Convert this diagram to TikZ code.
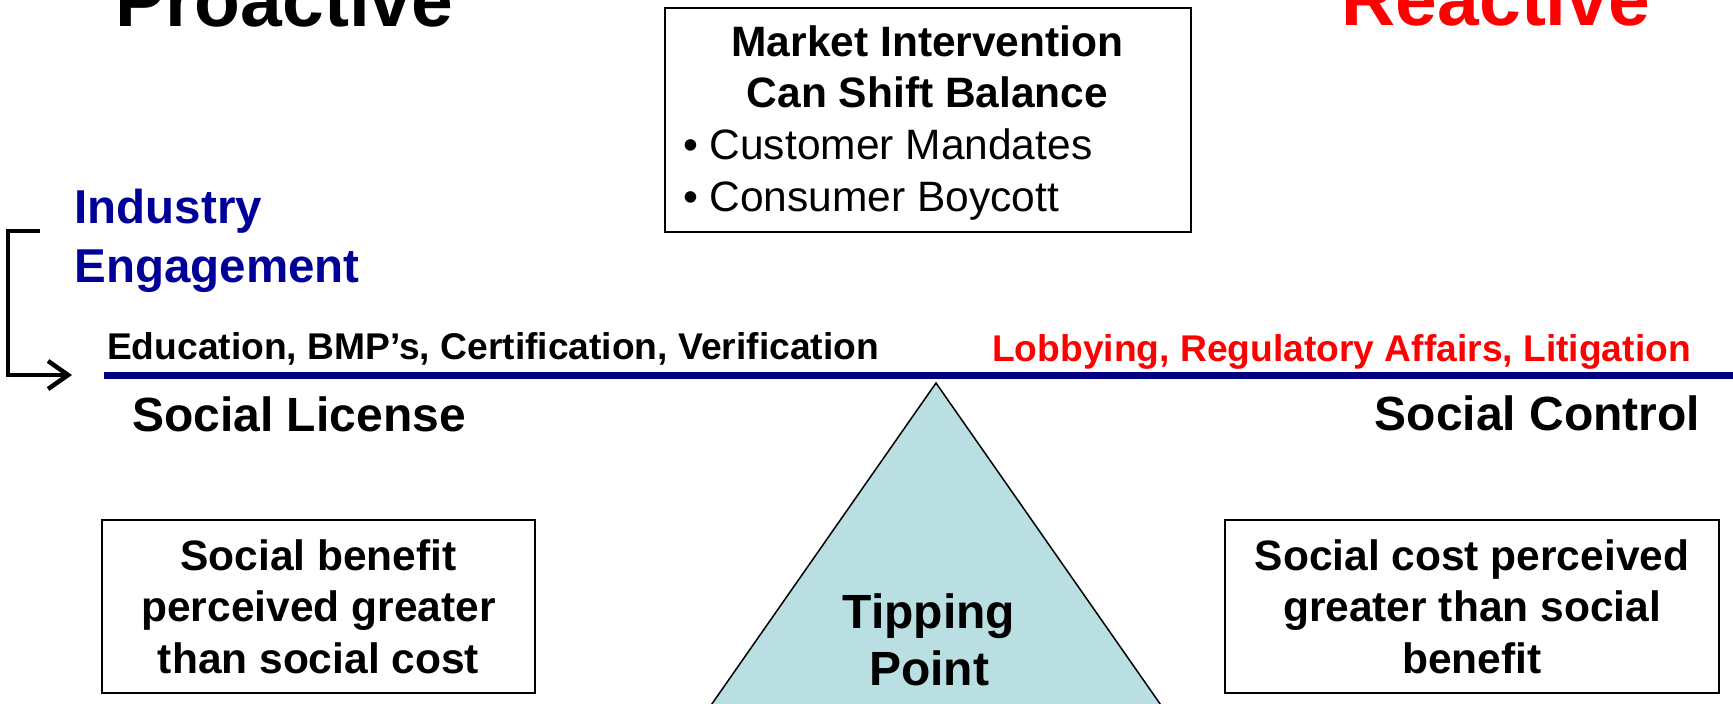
\documentclass[tikz,border=0pt]{standalone}
\usepackage{fontspec}
\setmainfont{Liberation Sans}
\usetikzlibrary{arrows.meta}
\definecolor{engblue}{RGB}{0,0,153}
\definecolor{navyline}{RGB}{0,0,128}
\definecolor{tipfill}{RGB}{185,223,227}
\definecolor{redtxt}{RGB}{255,0,0}
\begin{document}
\begin{tikzpicture}[x=1bp,y=-1bp,
  txt/.style={inner sep=0pt, outer sep=0pt},
  huge/.style={txt, anchor=base, font=\fontsize{75bp}{80bp}\selectfont\bfseries},
  head/.style={txt, anchor=base, font=\fontsize{48bp}{59bp}\selectfont\bfseries},
  midb/.style={txt, anchor=base, align=center, font=\fontsize{42.5bp}{51.3bp}\selectfont\bfseries},
  midr/.style={txt, anchor=base west, align=left, font=\fontsize{42.5bp}{51bp}\selectfont},
  small/.style={txt, anchor=base, font=\fontsize{37.2bp}{44bp}\selectfont\bfseries},
  box/.style={draw, line width=2bp, inner sep=0pt, fill=white},
]
\useasboundingbox (0,0) rectangle (1733,704);
\clip (0,0) rectangle (1733,704);

% titles
\node[huge] (pro) at (284.5,27) {Proactive};
\node[huge, text=redtxt] (rea) at (1496,26) {Reactive};

% market intervention box
\node[box, minimum width=526bp, minimum height=224bp] (mbox) at (928,120) {};
\node[midb, font=\fontsize{42.5bp}{51bp}\selectfont\bfseries] (mtitle) at (927.5,108) {Market Intervention\\Can Shift Balance};
\node[midr] (mlist) at (683,211) {• Customer Mandates\\• Consumer Boycott};

% industry engagement
\node[txt, anchor=base west, align=left, text=engblue,
      font=\fontsize{47.5bp}{59bp}\selectfont\bfseries] (eng) at (74.5,282) {Industry\\Engagement};

% bracket arrow
\coordinate (brS) at (40,231);
\coordinate (brE) at (72,375);
\draw[line width=4.5bp, -{Straight Barb[length=20bp,width=28bp]}]
  (brS) -- ++(-32,0) |- (brE);

% balance line
\coordinate (lineL) at (104,375.5);
\coordinate (lineR) at (1733,375.5);
\draw[navyline, line width=7bp] (lineL) -- (lineR);

% line labels
\node[small] (edu) at (493,359) {Education, BMP’s, Certification, Verification};
\node[small, text=redtxt] (lob) at (1341.5,361) {Lobbying, Regulatory Affairs, Litigation};
\node[head] (slic) at (299,431) {Social License};
\node[head] (scon) at (1537.5,430) {Social Control};

% tipping triangle
\draw[line width=1.5bp, fill=tipfill] (686,741) -- (936,383) -- (1186,741);
\node[head, align=center, font=\fontsize{48bp}{57bp}\selectfont\bfseries] (tip) at (929,685) {Tipping\\Point};

% bottom boxes
\node[box, minimum width=433bp, minimum height=173bp] (lbox) at (318.5,606.5) {};
\node[midb] (ltext) at (318.5,673) {Social benefit\\perceived greater\\than social cost};
\node[box, minimum width=494bp, minimum height=173bp] (rbox) at (1472,606.5) {};
\node[midb] (rtext) at (1472,673) {Social cost perceived\\greater than social\\benefit};
\end{tikzpicture}
\end{document}
